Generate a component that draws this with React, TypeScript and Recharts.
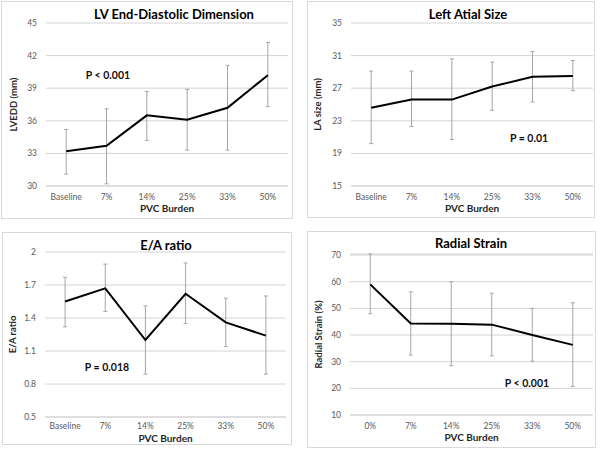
import { LineChart, Line, XAxis, YAxis, CartesianGrid, ErrorBar, Label } from "recharts";

const burden = ["Baseline", "7%", "14%", "25%", "33%", "50%"];
const burdenStrain = ["0%", "7%", "14%", "25%", "33%", "50%"];

const lvedd = [33.2, 33.7, 36.5, 36.1, 37.2, 40.2];
const lveddLow = [31.1, 30.2, 34.2, 33.3, 33.3, 37.3];
const lveddHigh = [35.2, 37.1, 38.7, 38.9, 41.1, 43.2];
const lveddTicks = [30, 33, 36, 39, 42, 45];

const laSize = [24.6, 25.6, 25.6, 27.2, 28.4, 28.5];
const laLow = [20.2, 22.3, 20.7, 24.3, 25.3, 26.7];
const laHigh = [29.1, 29.1, 30.6, 30.2, 31.5, 30.4];
const laTicks = [15, 19, 23, 27, 31, 35];

const eaRatio = [1.55, 1.67, 1.2, 1.62, 1.36, 1.24];
const eaLow = [1.32, 1.46, 0.89, 1.35, 1.14, 0.89];
const eaHigh = [1.77, 1.89, 1.51, 1.9, 1.58, 1.6];
const eaTicks = [0.5, 0.8, 1.1, 1.4, 1.7, 2];

const strain = [59.0, 44.3, 44.2, 43.9, 40.0, 36.3];
const strainLow = [48.0, 32.5, 28.5, 32.2, 30.2, 20.7];
const strainHigh = [70.4, 56.2, 60.0, 55.7, 50.0, 52.1];
const strainTicks = [10, 20, 30, 40, 50, 60, 70];

const FONT = "Lato, 'Open Sans', sans-serif";
const GRID = "#d4d4d4";

const rows = (cats: string[], v: number[], lo: number[], hi: number[]) =>
  cats.map((c, i) => ({ cat: c, v: v[i], err: [v[i] - lo[i], hi[i] - v[i]] }));

interface PanelProps {
  box: { left: number; top: number; w: number; h: number };
  margin: { top: number; right: number; bottom: number };
  yWidth: number;
  xHeight: number;
  xTickMargin: number;
  xLabelOffset: number;
  data: { cat: string; v: number; err: number[] }[];
  ticks: number[];
  title: string;
  titleAt: [number, number];
  yLabel: string;
  yLabelX: number;
  pText: string;
  pAt: [number, number];
}

function Panel(p: PanelProps) {
  const { box } = p;
  // half a category band on each side, like Excel's "between tick marks"
  const half = (box.w - 2 - p.yWidth - p.margin.right) / 12;
  return (
    <div
      style={{
        position: "absolute",
        left: box.left,
        top: box.top,
        width: box.w,
        height: box.h,
        border: "1px solid #d9d9d9",
        boxSizing: "border-box",
        fontFamily: FONT,
      }}
    >
      <LineChart
        width={box.w - 2}
        height={box.h - 2}
        data={p.data}
        margin={{ top: p.margin.top, right: p.margin.right, bottom: p.margin.bottom, left: 0 }}
        style={{ position: "absolute", left: 0, top: 0 }}
      >
        <CartesianGrid vertical={false} stroke={GRID} />
        <XAxis
          dataKey="cat"
          height={p.xHeight}
          padding={{ left: half, right: half }}
          axisLine={{ stroke: GRID }}
          tickLine={false}
          tickMargin={p.xTickMargin}
          tick={{ fontSize: 8.5, fill: "#595959", fontFamily: FONT }}
          interval={0}
        >
          <Label
            value="PVC Burden"
            position="insideTop"
            offset={p.xLabelOffset}
            style={{ fontSize: 10, fontWeight: 700, fill: "#262626", fontFamily: FONT }}
          />
        </XAxis>
        <YAxis
          width={p.yWidth}
          domain={[p.ticks[0], p.ticks[p.ticks.length - 1]]}
          ticks={p.ticks}
          axisLine={false}
          tickLine={false}
          tickMargin={3}
          tick={{ fontSize: 8.5, fill: "#595959", fontFamily: FONT }}
        >
          <Label
            value={p.yLabel}
            angle={-90}
            position="insideLeft"
            offset={p.yLabelX}
            style={{ textAnchor: "middle", fontSize: 9.5, fontWeight: 700, fill: "#262626", fontFamily: FONT }}
          />
        </YAxis>
        <Line
          dataKey="v"
          type="linear"
          stroke="#000"
          strokeWidth={2}
          dot={false}
          isAnimationActive={false}
        >
          <ErrorBar dataKey="err" width={2} stroke="#a6a6a6" strokeWidth={1} direction="y" />
        </Line>
      </LineChart>
      <div
        style={{
          position: "absolute",
          left: p.titleAt[0],
          top: p.titleAt[1],
          transform: "translate(-50%, -50%)",
          fontSize: 13,
          fontWeight: 700,
          color: "#000",
          whiteSpace: "nowrap",
        }}
      >
        {p.title}
      </div>
      <div
        style={{
          position: "absolute",
          left: p.pAt[0],
          top: p.pAt[1],
          transform: "translate(-50%, -50%)",
          fontSize: 10.5,
          fontWeight: 700,
          color: "#111",
          whiteSpace: "nowrap",
        }}
      >
        {p.pText}
      </div>
    </div>
  );
}

export default function App() {
  return (
    <div style={{ position: "fixed", left: 0, top: 0, width: 600, height: 450, background: "#fff" }}>
      <Panel
        box={{ left: 1, top: 1, w: 292, h: 218 }}
        margin={{ top: 21, right: 4, bottom: 0 }}
        yWidth={44}
        xHeight={32}
        xTickMargin={2}
        xLabelOffset={19}
        data={rows(burden, lvedd, lveddLow, lveddHigh)}
        ticks={lveddTicks}
        title="LV End-Diastolic Dimension"
        titleAt={[172, 12]}
        yLabel="LVEDD (mm)"
        yLabelX={12}
        pText="P < 0.001"
        pAt={[106, 73]}
      />
      <Panel
        box={{ left: 307, top: 1, w: 288, h: 217 }}
        margin={{ top: 21, right: 1, bottom: 0 }}
        yWidth={43}
        xHeight={31}
        xTickMargin={2}
        xLabelOffset={19}
        data={rows(burden, laSize, laLow, laHigh)}
        ticks={laTicks}
        title="Left Atial Size"
        titleAt={[160, 12]}
        yLabel="LA size (mm)"
        yLabelX={10}
        pText="P = 0.01"
        pAt={[221, 136]}
      />
      <Panel
        box={{ left: 2, top: 232, w: 290, h: 213 }}
        margin={{ top: 19, right: 5, bottom: 0 }}
        yWidth={42}
        xHeight={27}
        xTickMargin={0}
        xLabelOffset={18}
        data={rows(burden, eaRatio, eaLow, eaHigh)}
        ticks={eaTicks}
        title="E/A ratio"
        titleAt={[163, 12]}
        yLabel="E/A ratio"
        yLabelX={10}
        pText="P = 0.018"
        pAt={[104, 134]}
      />
      <Panel
        box={{ left: 307, top: 231, w: 289, h: 217 }}
        margin={{ top: 22, right: 2, bottom: 0 }}
        yWidth={42}
        xHeight={32}
        xTickMargin={2}
        xLabelOffset={19}
        data={rows(burdenStrain, strain, strainLow, strainHigh)}
        ticks={strainTicks}
        title="Radial Strain"
        titleAt={[163, 11]}
        yLabel="Radial Strain (%)"
        yLabelX={11}
        pText="P < 0.001"
        pAt={[219, 151]}
      />
    </div>
  );
}
